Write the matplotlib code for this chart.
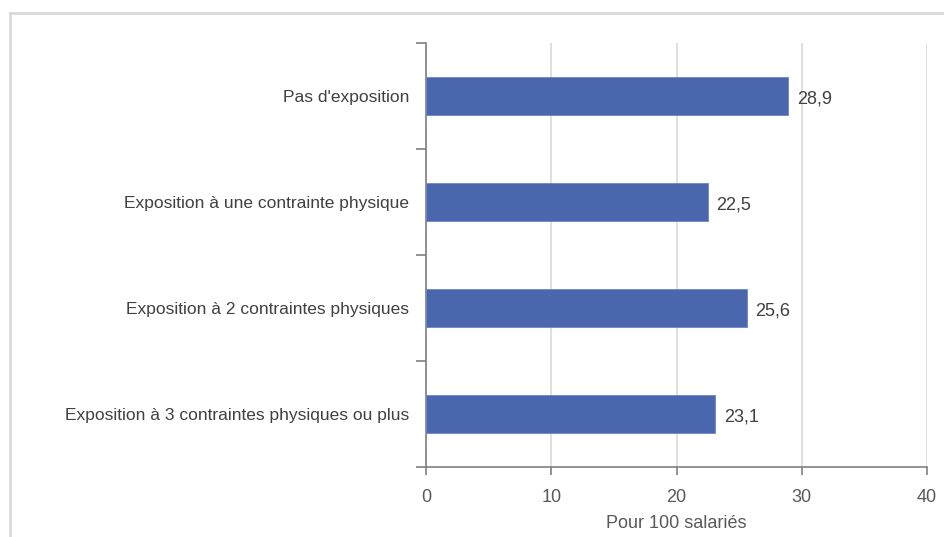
import numpy as np
import matplotlib
matplotlib.use("Agg")
from matplotlib import pyplot as plt
from matplotlib.lines import Line2D

categories = ["Pas d'exposition",
              "Exposition à une contrainte physique",
              "Exposition à 2 contraintes physiques",
              "Exposition à 3 contraintes physiques ou plus"]
values = [28.9, 22.5, 25.6, 23.1]
value_labels = ["28,9", "22,5", "25,6", "23,1"]
x_ticks = [0, 10, 20, 30, 40]

plt.rcParams['font.family'] = ['Liberation Sans Narrow', 'Liberation Sans', 'DejaVu Sans']

fig = plt.figure(figsize=(9.45, 5.37), dpi=100)
ax = fig.add_axes([426/945, 1-467/537, (927-426)/945, (467-43)/537])

# light frame (top and left edges) around the chart
fx, fy = 10/945, 1 - 13/537
fig.lines.append(Line2D([fx, 1.01], [fy, fy], transform=fig.transFigure, color='#d9d9d9', linewidth=2))
fig.lines.append(Line2D([fx, fx], [-0.01, fy], transform=fig.transFigure, color='#d9d9d9', linewidth=2))

y = np.arange(len(categories))
ax.barh(y, values, height=0.35, color='#4a67ad', edgecolor='#6b86c4', linewidth=0.6, zorder=3)
for yi, v, lab in zip(y, values, value_labels):
    ax.text(v + 0.7, yi + 0.03, lab, va='center', ha='left', fontsize=13, color='#404040')

ax.set_ylim(len(categories) - 0.5, -0.5)
ax.set_xlim(0, 40)
ax.set_xticks(x_ticks)
ax.set_xticklabels([str(t) for t in x_ticks], fontsize=13, color='#595959')
ax.set_yticks(y)
ax.set_yticklabels(categories, fontsize=12.5, color='#404040')
ax.tick_params(axis='y', which='major', length=0, pad=12)
ax.set_yticks(np.arange(-0.5, len(categories)), minor=True)
ax.tick_params(axis='y', which='minor', length=7, color='#808080', width=1.2)
ax.tick_params(axis='x', length=6, color='#808080', width=1.2, pad=10)

ax.grid(axis='x', color='#d9d9d9', linewidth=1.2, zorder=0)
for s in ['top', 'right']:
    ax.spines[s].set_visible(False)
for s in ['left', 'bottom']:
    ax.spines[s].set_color('#808080')
    ax.spines[s].set_linewidth(1.2)

ax.set_xlabel("Pour 100 salariés", fontsize=13, color='#595959', labelpad=6)

fig.savefig("out.png", dpi=100)
